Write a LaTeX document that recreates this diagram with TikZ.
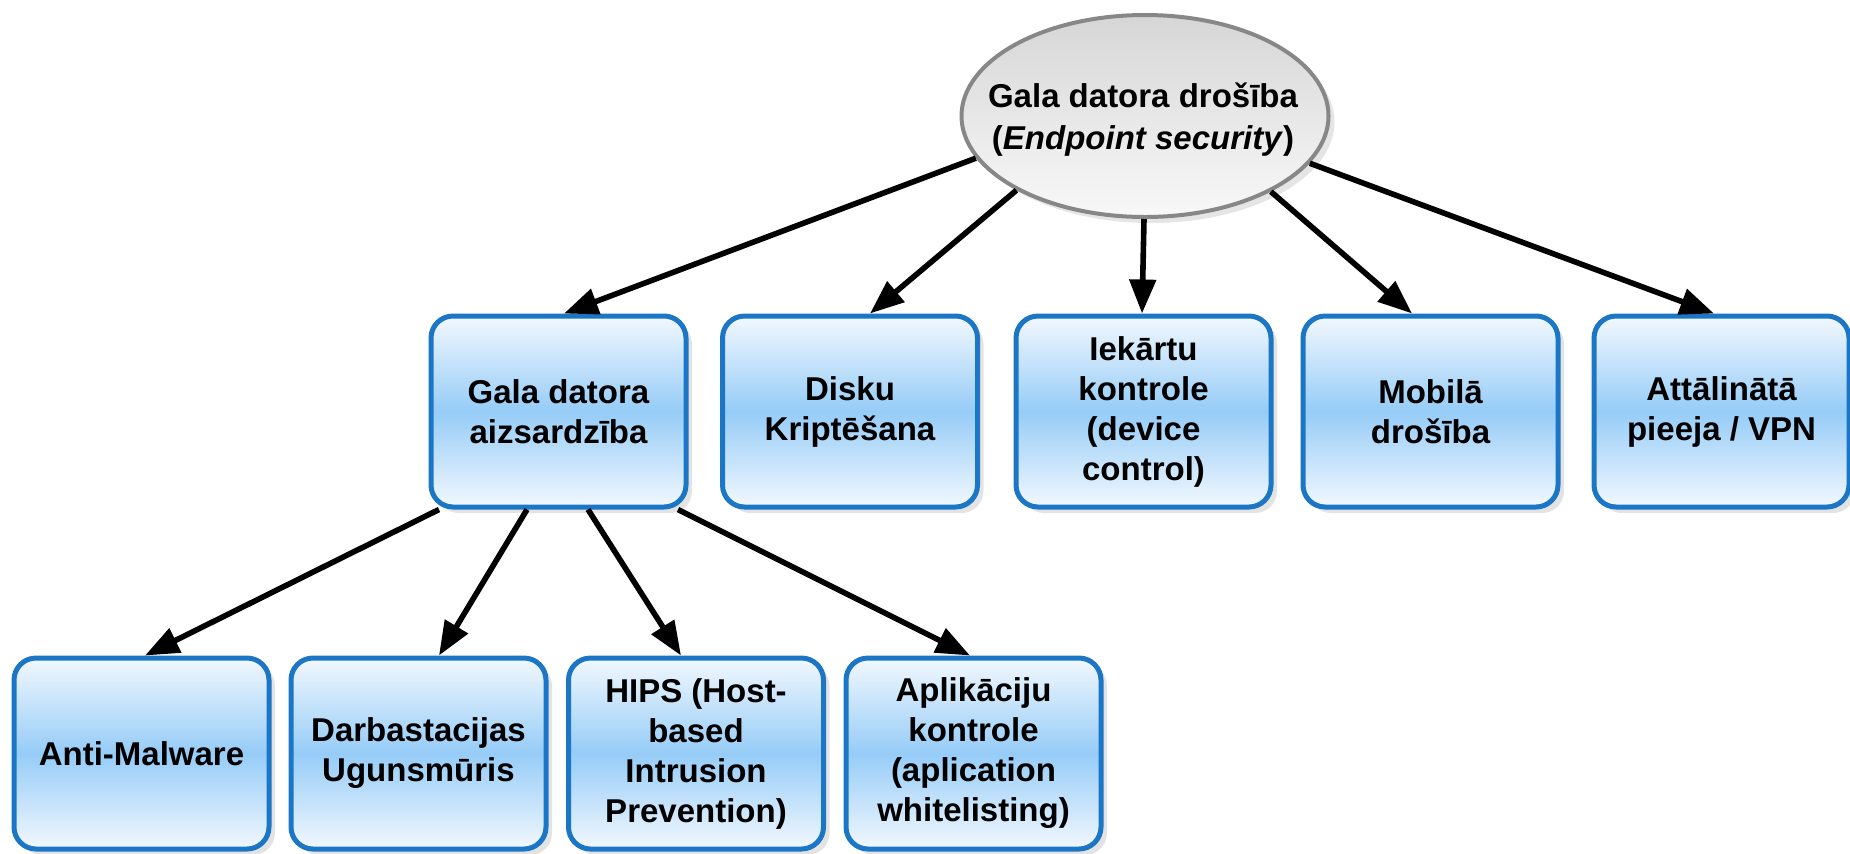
\documentclass[tikz,border=0pt]{standalone}
\usepackage{fontspec}
\setmainfont{Liberation Sans}
\usetikzlibrary{shapes.geometric,shadows,arrows.meta,calc}
\definecolor{boxborder}{RGB}{28,118,198}
\definecolor{boxtop}{RGB}{242,248,254}
\definecolor{boxmid}{RGB}{150,204,247}
\definecolor{ellborder}{RGB}{135,135,135}
\definecolor{elltop}{RGB}{214,214,214}
\definecolor{ellbot}{RGB}{248,248,248}
\tikzset{
  leaf/.style={draw=boxborder, line width=2.5pt, rounded corners=11pt,
    minimum width=127.5pt, minimum height=95.5pt, align=center,
    top color=boxtop, bottom color=boxtop, middle color=boxmid,
    drop shadow={shadow xshift=3pt, shadow yshift=-3pt, fill=black!22},
    font=\bfseries\fontsize{16.5}{20}\selectfont},
  rootnode/.style={ellipse, draw=ellborder, line width=2pt,
    minimum width=183.5pt, minimum height=101pt, inner sep=0pt,
    top color=elltop, bottom color=ellbot,
    drop shadow={shadow xshift=3pt, shadow yshift=-3pt, fill=black!20}},
  roottext/.style={align=center, inner sep=0pt,
    font=\bfseries\fontsize{16.5}{21}\selectfont},
  arr/.style={line width=2.8pt, -{Triangle[length=17pt,width=13pt]}, black},
}
\begin{document}
\begin{tikzpicture}[x=0.5pt,y=-0.5pt]
\useasboundingbox (0,0) rectangle (1850,853);
\node[rootnode] (top) at (1145,116) {};
\node[roottext] (toptext) at ($(top.center)+(-2,4)$) {Gala datora drošība\\(\textit{Endpoint security})};
\node[leaf] (A) at (558.5,411.5) {Gala datora\\aizsardzība};
\node[leaf] (B) at (850,411.5) {Disku\\Kriptēšana};
\node[leaf] (C) at (1143.5,411.5) {Iekārtu\\kontrole\\(device\\control)};
\node[leaf] (D) at (1430.5,411.5) {Mobilā\\drošība};
\node[leaf] (E) at (1721.5,411.5) {Attālinātā\\pieeja / VPN};
\node[leaf] (F1) at (141.5,753.5) {Anti-Malware};
\node[leaf] (F2) at (418.5,753.5) {Darbastacijas\\Ugunsmūris};
\node[leaf] (F3) at (696,753.5) {HIPS (Host-\\based\\Intrusion\\Prevention)};
\node[leaf] (F4) at (973.5,753.5) {Aplikāciju\\kontrole\\(aplication\\whitelisting)};
\draw[arr] (top.194.8) -- ($(A.north)+(5.5,0)$);
\draw[arr] (top.210.3) -- ($(B.north)+(20,0)$);
\draw[arr] ($(top.south)+(-1,0)$) -- ($(C.north)+(-1.5,0)$);
\draw[arr] (top.329.3) -- ($(D.north)+(-18.5,0)$);
\draw[arr] (top.344.2) -- ($(E.north)+(-7.5,0)$);
\draw[arr] ($(A.south)+(-119.5,0)$) -- ($(F1.north)+(3.5,0)$);
\draw[arr] ($(A.south)+(-31.5,0)$) -- ($(F2.north)+(20.5,0)$);
\draw[arr] ($(A.south)+(29.5,0)$) -- ($(F3.north)+(-15,0)$);
\draw[arr] ($(A.south)+(119.5,0)$) -- ($(F4.north)+(-3.5,0)$);
\end{tikzpicture}
\end{document}
